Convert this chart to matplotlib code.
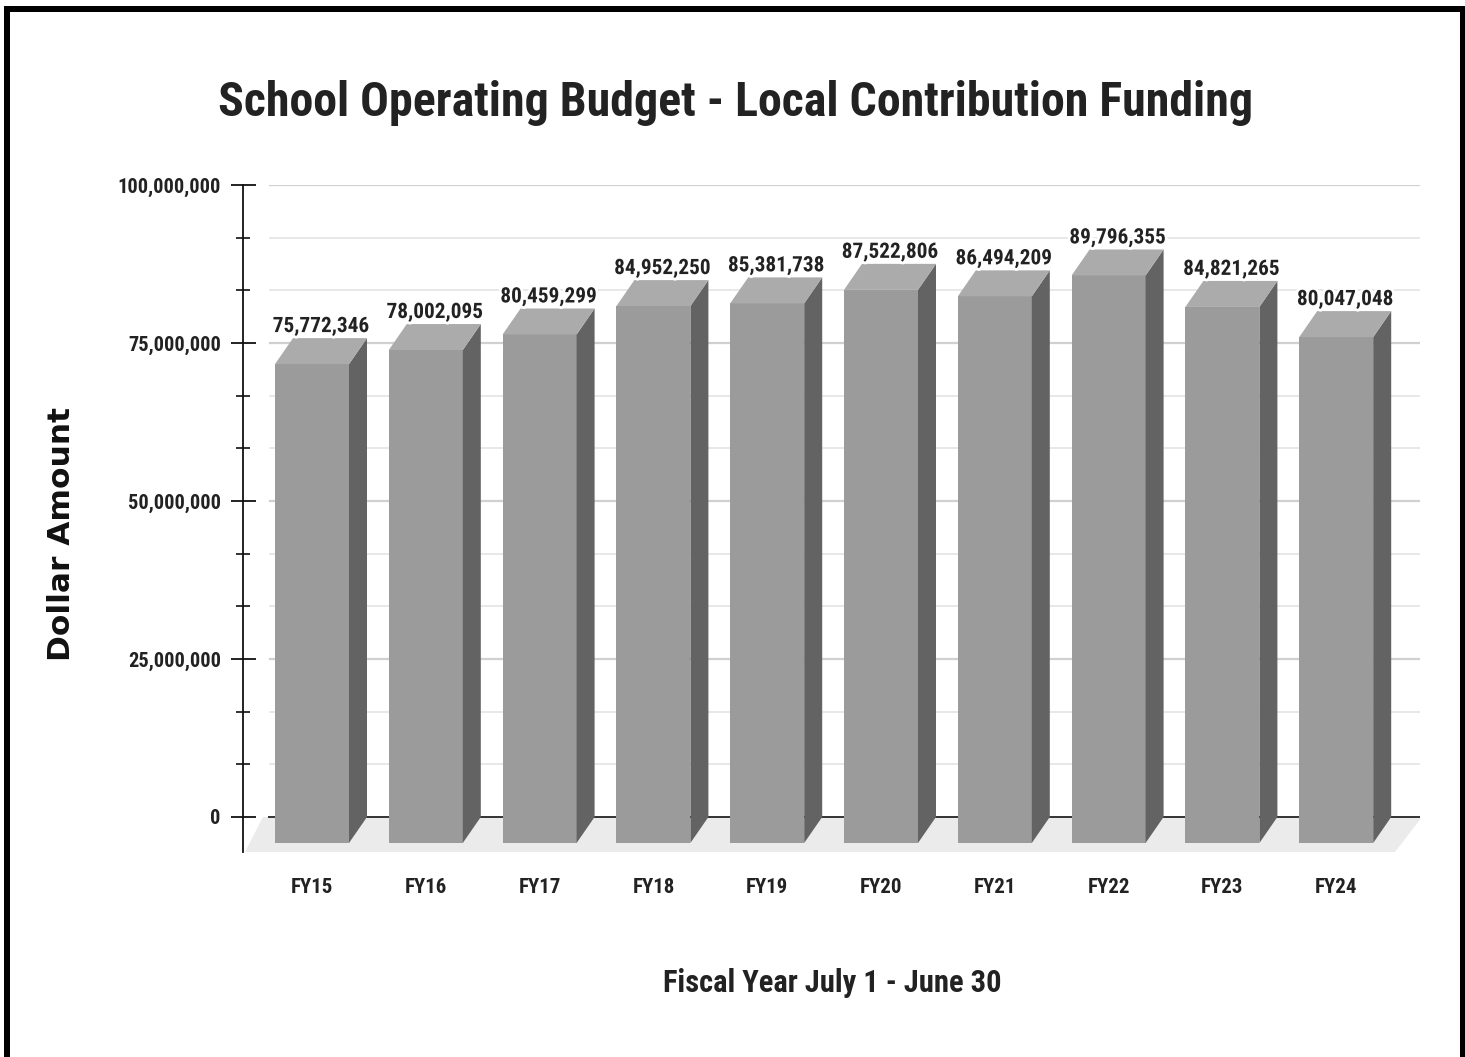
import matplotlib
matplotlib.use("Agg")
import matplotlib.pyplot as plt
from matplotlib.patches import Polygon
from matplotlib.lines import Line2D
from matplotlib.ticker import MultipleLocator, FuncFormatter
import matplotlib.patheffects as pe

# Local contribution to the school operating budget, by fiscal year
fiscal_years = ["FY15", "FY16", "FY17", "FY18", "FY19", "FY20", "FY21", "FY22", "FY23", "FY24"]
funding = [75772346, 78002095, 80459299, 84952250, 85381738,
           87522806, 86494209, 89796355, 84821265, 80047048]
y_ticks = [0, 25000000, 50000000, 75000000, 100000000]

W, H = 1465, 1057
fig = plt.figure(figsize=(W / 100, H / 100), dpi=100)

# axes frame in pixel terms
ax_left, ax_right, ax_top, ax_bottom = 243, 1420, 185, 852
y_zero_px = 817
px_per_unit_y = (y_zero_px - ax_top) / 100e6
ymin = -(ax_bottom - y_zero_px) / px_per_unit_y
ax = fig.add_axes([ax_left / W, 1 - ax_bottom / H,
                   (ax_right - ax_left) / W, (ax_bottom - ax_top) / H])

px_per_cat = 113.8
back_center0 = 330
xmin = -(back_center0 - ax_left) / px_per_cat
xmax = xmin + (ax_right - ax_left) / px_per_cat
ax.set_xlim(xmin, xmax)
ax.set_ylim(ymin, 100e6)

# 3D depth offsets
DX = 18 / px_per_cat
DY = 26 / px_per_unit_y
BW = 74 / px_per_cat

for s in ["top", "right", "bottom"]:
    ax.spines[s].set_visible(False)
ax.spines["left"].set_linewidth(1.3)
ax.spines["left"].set_color("#111111")


def px2x(px):
    return xmin + (px - ax_left) / px_per_cat


# grid lines start at the back wall
for k in range(1, 13):
    yv = k * 100e6 / 12
    major = k % 3 == 0
    ax.plot([px2x(270), xmax], [yv, yv], color="#d0d0d0" if major else "#e4e4e4",
            lw=1.6 if major else 1.2, zorder=1)

# floor
floor = Polygon([(px2x(263), 0), (px2x(1422), 0), (px2x(1395), ymin), (px2x(245), ymin)],
                closed=True, facecolor="#ebebeb", edgecolor="none", zorder=1.5)
ax.add_patch(floor)
ax.plot([px2x(269), px2x(1420)], [0, 0], color="#333333", lw=1.4, zorder=1.8)

front_c, side_c, top_c = "#9b9b9b", "#636363", "#ababab"
for i, v in enumerate(funding):
    fl = i - DX - BW / 2
    fr = i - DX + BW / 2
    front = Polygon([(fl, -DY), (fr, -DY), (fr, v - DY), (fl, v - DY)],
                    closed=True, facecolor=front_c, edgecolor="none", zorder=3)
    side = Polygon([(fr, -DY), (i + BW / 2, 0), (i + BW / 2, v), (fr, v - DY)],
                   closed=True, facecolor=side_c, edgecolor="none", zorder=3)
    top = Polygon([(fl, v - DY), (i - BW / 2, v), (i + BW / 2, v), (fr, v - DY)],
                  closed=True, facecolor=top_c, edgecolor="none", zorder=3)
    for p in (front, side, top):
        ax.add_patch(p)
    ax.text(i - DX / 2, v + 0.3e6, f"{v:,.0f}", ha="center", va="bottom",
            fontsize=15.3, fontweight="bold", family="Roboto Condensed", color="#222222",
            zorder=4, path_effects=[pe.withStroke(linewidth=4, foreground="white")])

# y axis ticks
ax.set_yticks(y_ticks)
ax.yaxis.set_major_formatter(FuncFormatter(lambda v, p: f"{v:,.0f}"))
ax.yaxis.set_minor_locator(MultipleLocator(100e6 / 12))
ax.tick_params(axis="y", which="major", direction="inout", length=18, width=1.3,
               color="#111111", pad=7, labelsize=14.7, labelcolor="#222222")
ax.tick_params(axis="y", which="minor", direction="inout", length=10, width=1.2,
               color="#111111")
for lab in ax.get_yticklabels():
    lab.set_fontfamily("Roboto Condensed")
    lab.set_fontweight("bold")

# category labels under the bars
ax.set_xticks([i - DX for i in range(len(fiscal_years))])
ax.set_xticklabels(fiscal_years)
ax.tick_params(axis="x", length=0, pad=19, labelsize=15, labelcolor="#222222")
for lab in ax.get_xticklabels():
    lab.set_fontfamily("Roboto Condensed")
    lab.set_fontweight("bold")

fig.text(735 / W, 1 - 103 / H, "School Operating Budget - Local Contribution Funding",
         ha="center", va="center", fontsize=34.5, fontweight="bold",
         family="Roboto Condensed", color="#222222")
fig.text(832 / W, 1 - 983 / H, "Fiscal Year July 1 - June 30", ha="center", va="center",
         fontsize=22, fontweight="bold", family="Roboto Condensed", color="#222222")
fig.text(62 / W, 1 - 534 / H, "Dollar Amount", ha="center", va="center", rotation=90,
         fontsize=22.5, fontweight="bold", family="DejaVu Sans", color="#111111")

# black frame around the chart
for (x0, y0, x1, y1) in [(7, 9, 1463, 9), (7, 9, 7, H + 5), (1463, 9, 1463, H + 5)]:
    fig.add_artist(Line2D([x0 / W, x1 / W], [1 - y0 / H, 1 - y1 / H],
                          color="black", lw=6 * 72 / 100, solid_capstyle="projecting"))

fig.savefig("out.png", dpi=100, facecolor="white")
